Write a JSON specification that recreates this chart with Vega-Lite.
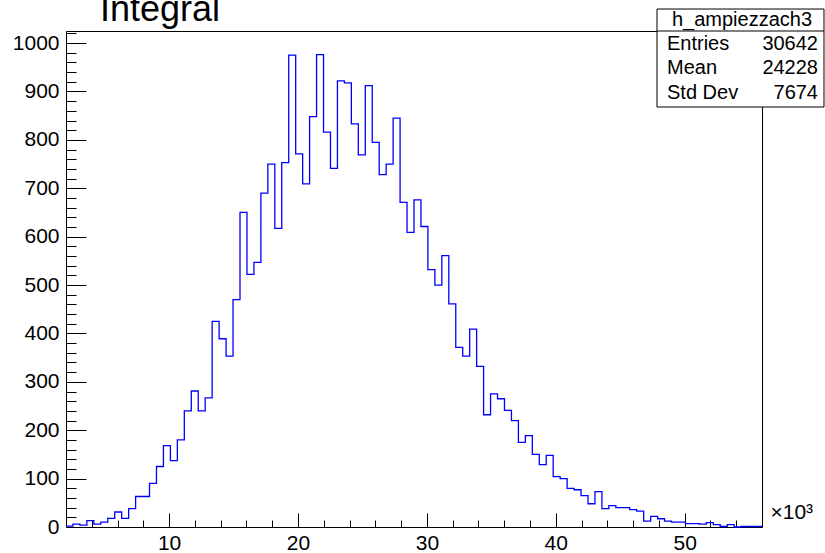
{
  "$schema": "https://vega.github.io/schema/vega-lite/v6.json",
  "width": 696,
  "height": 496,
  "autosize": {"type": "none"},
  "padding": {"left": 66, "top": 31, "right": 63, "bottom": 26},
  "background": "white",
  "config": {"view": {"stroke": null}, "font": "Liberation Sans", "axis": {"grid": false}},
  "title": {"text": "Integral", "anchor": "start", "frame": "group", "dx": 34, "dy": 30, "offset": -18, "fontSize": 36, "fontWeight": "normal", "font": "Liberation Sans", "color": "black", "baseline": "alphabetic"},
  "datasets": {
    "hist": [
      {"lo": 2000, "hi": 2540, "n": 2}, {"lo": 2540, "hi": 3080, "n": 6}, {"lo": 3080, "hi": 3620, "n": 4}, {"lo": 3620, "hi": 4160, "n": 13}, {"lo": 4160, "hi": 4700, "n": 6},
      {"lo": 4700, "hi": 5240, "n": 10}, {"lo": 5240, "hi": 5780, "n": 18}, {"lo": 5780, "hi": 6320, "n": 31}, {"lo": 6320, "hi": 6860, "n": 18}, {"lo": 6860, "hi": 7400, "n": 38},
      {"lo": 7400, "hi": 7940, "n": 63}, {"lo": 7940, "hi": 8480, "n": 63}, {"lo": 8480, "hi": 9020, "n": 90}, {"lo": 9020, "hi": 9560, "n": 125}, {"lo": 9560, "hi": 10100, "n": 168},
      {"lo": 10100, "hi": 10640, "n": 137}, {"lo": 10640, "hi": 11180, "n": 180}, {"lo": 11180, "hi": 11720, "n": 240}, {"lo": 11720, "hi": 12260, "n": 281}, {"lo": 12260, "hi": 12800, "n": 240},
      {"lo": 12800, "hi": 13340, "n": 267}, {"lo": 13340, "hi": 13880, "n": 425}, {"lo": 13880, "hi": 14420, "n": 389}, {"lo": 14420, "hi": 14960, "n": 353}, {"lo": 14960, "hi": 15500, "n": 470},
      {"lo": 15500, "hi": 16040, "n": 650}, {"lo": 16040, "hi": 16580, "n": 522}, {"lo": 16580, "hi": 17120, "n": 547}, {"lo": 17120, "hi": 17660, "n": 690}, {"lo": 17660, "hi": 18200, "n": 750},
      {"lo": 18200, "hi": 18740, "n": 617}, {"lo": 18740, "hi": 19280, "n": 753}, {"lo": 19280, "hi": 19820, "n": 975}, {"lo": 19820, "hi": 20360, "n": 771}, {"lo": 20360, "hi": 20900, "n": 709},
      {"lo": 20900, "hi": 21440, "n": 848}, {"lo": 21440, "hi": 21980, "n": 976}, {"lo": 21980, "hi": 22520, "n": 816}, {"lo": 22520, "hi": 23060, "n": 741}, {"lo": 23060, "hi": 23600, "n": 922},
      {"lo": 23600, "hi": 24140, "n": 918}, {"lo": 24140, "hi": 24680, "n": 833}, {"lo": 24680, "hi": 25220, "n": 769}, {"lo": 25220, "hi": 25760, "n": 912}, {"lo": 25760, "hi": 26300, "n": 795},
      {"lo": 26300, "hi": 26840, "n": 728}, {"lo": 26840, "hi": 27380, "n": 750}, {"lo": 27380, "hi": 27920, "n": 845}, {"lo": 27920, "hi": 28460, "n": 671}, {"lo": 28460, "hi": 29000, "n": 609},
      {"lo": 29000, "hi": 29540, "n": 676}, {"lo": 29540, "hi": 30080, "n": 621}, {"lo": 30080, "hi": 30620, "n": 532}, {"lo": 30620, "hi": 31160, "n": 500}, {"lo": 31160, "hi": 31700, "n": 561},
      {"lo": 31700, "hi": 32240, "n": 461}, {"lo": 32240, "hi": 32780, "n": 371}, {"lo": 32780, "hi": 33320, "n": 353}, {"lo": 33320, "hi": 33860, "n": 409}, {"lo": 33860, "hi": 34400, "n": 332},
      {"lo": 34400, "hi": 34940, "n": 232}, {"lo": 34940, "hi": 35480, "n": 275}, {"lo": 35480, "hi": 36020, "n": 265}, {"lo": 36020, "hi": 36560, "n": 241}, {"lo": 36560, "hi": 37100, "n": 220},
      {"lo": 37100, "hi": 37640, "n": 175}, {"lo": 37640, "hi": 38180, "n": 189}, {"lo": 38180, "hi": 38720, "n": 150}, {"lo": 38720, "hi": 39260, "n": 129}, {"lo": 39260, "hi": 39800, "n": 148},
      {"lo": 39800, "hi": 40340, "n": 104}, {"lo": 40340, "hi": 40880, "n": 100}, {"lo": 40880, "hi": 41420, "n": 80}, {"lo": 41420, "hi": 41960, "n": 77}, {"lo": 41960, "hi": 42500, "n": 65},
      {"lo": 42500, "hi": 43040, "n": 48}, {"lo": 43040, "hi": 43580, "n": 73}, {"lo": 43580, "hi": 44120, "n": 38}, {"lo": 44120, "hi": 44660, "n": 44}, {"lo": 44660, "hi": 45200, "n": 40},
      {"lo": 45200, "hi": 45740, "n": 40}, {"lo": 45740, "hi": 46280, "n": 36}, {"lo": 46280, "hi": 46820, "n": 33}, {"lo": 46820, "hi": 47360, "n": 12}, {"lo": 47360, "hi": 47900, "n": 22},
      {"lo": 47900, "hi": 48440, "n": 17}, {"lo": 48440, "hi": 48980, "n": 12}, {"lo": 48980, "hi": 49520, "n": 10}, {"lo": 49520, "hi": 50060, "n": 10}, {"lo": 50060, "hi": 50600, "n": 7},
      {"lo": 50600, "hi": 51140, "n": 7}, {"lo": 51140, "hi": 51680, "n": 6}, {"lo": 51680, "hi": 52220, "n": 9}, {"lo": 52220, "hi": 52760, "n": 5}, {"lo": 52760, "hi": 53300, "n": 1},
      {"lo": 53300, "hi": 53840, "n": 5}, {"lo": 53840, "hi": 54380, "n": 0}, {"lo": 54380, "hi": 54920, "n": 1}, {"lo": 54920, "hi": 55460, "n": 1}, {"lo": 55460, "hi": 56000, "n": 1}
    ],
    "statbox": [{"title": "h_ampiezzach3"}],
    "stats": [
      {"stat": "Entries", "value": "30642"},
      {"stat": "Mean", "value": "24228"},
      {"stat": "Std Dev", "value": "7674"}
    ]
  },
  "resolve": {"axis": {"x": "independent", "y": "independent"}},
  "layer": [
    {
      "data": {"name": "hist"},
      "mark": {"type": "point", "opacity": 0},
      "encoding": {
        "x": {"field": "lo", "type": "quantitative", "scale": {"domain": [2000, 56000], "nice": false, "zero": false},
              "axis": {"orient": "top", "offset": 0, "domain": true, "domainColor": "black", "domainWidth": 1, "ticks": false, "labels": false, "title": null, "grid": false}},
        "y": {"field": "n", "type": "quantitative", "scale": {"domain": [0, 1025], "nice": false},
              "axis": {"orient": "right", "offset": 0, "domain": true, "domainColor": "black", "domainWidth": 1, "ticks": false, "labels": false, "title": null, "grid": false}}
      }
    },
    {
      "data": {"name": "hist"},
      "mark": {"type": "point", "opacity": 0},
      "encoding": {
        "x": {"field": "lo", "type": "quantitative", "scale": {"domain": [2000, 56000], "nice": false, "zero": false},
              "axis": {"orient": "top", "offset": -496, "domain": false, "ticks": true, "tickSize": 7, "tickColor": "black", "tickWidth": 1, "labels": false, "title": null, "grid": false,
                       "values": [4000, 6000, 8000, 12000, 14000, 16000, 18000, 22000, 24000, 26000, 28000, 32000, 34000, 36000, 38000, 42000, 44000, 46000, 48000, 52000, 54000]}},
        "y": {"field": "n", "type": "quantitative", "scale": {"domain": [0, 1025], "nice": false},
              "axis": {"orient": "right", "offset": -696, "domain": false, "ticks": true, "tickSize": 10, "tickColor": "black", "tickWidth": 1, "labels": false, "title": null, "grid": false,
                       "values": [20, 40, 60, 80, 120, 140, 160, 180, 220, 240, 260, 280, 320, 340, 360, 380, 420, 440, 460, 480, 520, 540, 560, 580, 620, 640, 660, 680, 720, 740, 760, 780, 820, 840, 860, 880, 920, 940, 960, 980, 1020]}}
      }
    },
    {
      "data": {"name": "hist"},
      "mark": {"type": "point", "opacity": 0},
      "encoding": {
        "x": {"field": "lo", "type": "quantitative", "scale": {"domain": [2000, 56000], "nice": false, "zero": false},
              "axis": {"orient": "top", "offset": -496, "domain": false, "ticks": true, "tickSize": 14, "tickColor": "black", "tickWidth": 1, "labels": false, "title": null, "grid": false,
                       "values": [10000, 20000, 30000, 40000, 50000]}},
        "y": {"field": "n", "type": "quantitative", "scale": {"domain": [0, 1025], "nice": false},
              "axis": {"orient": "right", "offset": -696, "domain": false, "ticks": true, "tickSize": 20, "tickColor": "black", "tickWidth": 1, "labels": false, "title": null, "grid": false,
                       "values": [100, 200, 300, 400, 500, 600, 700, 800, 900, 1000]}}
      }
    },
    {
      "data": {"name": "hist"},
      "transform": [{"fold": ["lo", "hi"], "as": ["side", "edge"]}],
      "mark": {"type": "line", "color": "#0000ff", "strokeWidth": 1.3, "interpolate": "linear"},
      "encoding": {
        "x": {"field": "edge", "type": "quantitative", "scale": {"domain": [2000, 56000], "nice": false, "zero": false},
              "axis": {"orient": "bottom", "values": [10000, 20000, 30000, 40000, 50000], "labelExpr": "datum.value / 1000", "ticks": false, "domain": true, "domainColor": "black", "domainWidth": 1,
                       "labelFontSize": 21, "labelFont": "Liberation Sans", "labelColor": "black", "labelPadding": 5, "labelFlush": false, "labelOverlap": false, "grid": false,
                       "title": "×10³", "titleX": 704, "titleY": -9, "titleAlign": "left", "titleBaseline": "alphabetic", "titleAngle": 0, "titleFontSize": 21, "titleFont": "Liberation Sans", "titleFontWeight": "normal", "titleColor": "black"}},
        "y": {"field": "n", "type": "quantitative", "scale": {"domain": [0, 1025], "nice": false},
              "axis": {"orient": "left", "values": [0, 100, 200, 300, 400, 500, 600, 700, 800, 900, 1000], "format": "d", "ticks": false, "domain": true, "domainColor": "black", "domainWidth": 1,
                       "labelFontSize": 21, "labelFont": "Liberation Sans", "labelColor": "black", "labelPadding": 7, "labelFlush": false, "labelOverlap": false, "grid": false, "title": null}},
        "order": [{"field": "edge", "type": "quantitative"}, {"field": "side", "type": "nominal"}]
      }
    },
    {
      "data": {"name": "statbox"},
      "mark": {"type": "rect", "fill": "white", "stroke": "black", "strokeWidth": 1},
      "encoding": {
        "x": {"datum": 47853, "type": "quantitative", "axis": null},
        "x2": {"datum": 60810},
        "y": {"datum": 1070.4, "type": "quantitative", "axis": null},
        "y2": {"datum": 867.9}
      }
    },
    {
      "data": {"name": "statbox"},
      "mark": {"type": "rule", "color": "black", "strokeWidth": 1},
      "encoding": {
        "x": {"datum": 47853, "type": "quantitative", "axis": null},
        "x2": {"datum": 60810},
        "y": {"datum": 1025, "type": "quantitative", "axis": null}
      }
    },
    {
      "data": {"name": "statbox"},
      "mark": {"type": "text", "align": "center", "baseline": "alphabetic", "fontSize": 20, "font": "Liberation Sans", "color": "black"},
      "encoding": {
        "x": {"datum": 54448, "type": "quantitative", "axis": null},
        "y": {"datum": 1035.3, "type": "quantitative", "axis": null},
        "text": {"field": "title", "type": "nominal"}
      }
    },
    {
      "data": {"name": "stats"},
      "transform": [{"filter": "datum.stat === 'Entries'"}],
      "mark": {"type": "text", "align": "left", "baseline": "alphabetic", "fontSize": 20, "font": "Liberation Sans", "color": "black"},
      "encoding": {
        "x": {"datum": 48629, "type": "quantitative", "axis": null},
        "y": {"datum": 985.7, "type": "quantitative", "axis": null},
        "text": {"field": "stat", "type": "nominal"}
      }
    },
    {
      "data": {"name": "stats"},
      "transform": [{"filter": "datum.stat === 'Entries'"}],
      "mark": {"type": "text", "align": "right", "baseline": "alphabetic", "fontSize": 20, "font": "Liberation Sans", "color": "black"},
      "encoding": {
        "x": {"datum": 60345, "type": "quantitative", "axis": null},
        "y": {"datum": 985.7, "type": "quantitative", "axis": null},
        "text": {"field": "value", "type": "nominal"}
      }
    },
    {
      "data": {"name": "stats"},
      "transform": [{"filter": "datum.stat === 'Mean'"}],
      "mark": {"type": "text", "align": "left", "baseline": "alphabetic", "fontSize": 20, "font": "Liberation Sans", "color": "black"},
      "encoding": {
        "x": {"datum": 48629, "type": "quantitative", "axis": null},
        "y": {"datum": 936.1, "type": "quantitative", "axis": null},
        "text": {"field": "stat", "type": "nominal"}
      }
    },
    {
      "data": {"name": "stats"},
      "transform": [{"filter": "datum.stat === 'Mean'"}],
      "mark": {"type": "text", "align": "right", "baseline": "alphabetic", "fontSize": 20, "font": "Liberation Sans", "color": "black"},
      "encoding": {
        "x": {"datum": 60345, "type": "quantitative", "axis": null},
        "y": {"datum": 936.1, "type": "quantitative", "axis": null},
        "text": {"field": "value", "type": "nominal"}
      }
    },
    {
      "data": {"name": "stats"},
      "transform": [{"filter": "datum.stat === 'Std Dev'"}],
      "mark": {"type": "text", "align": "left", "baseline": "alphabetic", "fontSize": 20, "font": "Liberation Sans", "color": "black"},
      "encoding": {
        "x": {"datum": 48629, "type": "quantitative", "axis": null},
        "y": {"datum": 884.5, "type": "quantitative", "axis": null},
        "text": {"field": "stat", "type": "nominal"}
      }
    },
    {
      "data": {"name": "stats"},
      "transform": [{"filter": "datum.stat === 'Std Dev'"}],
      "mark": {"type": "text", "align": "right", "baseline": "alphabetic", "fontSize": 20, "font": "Liberation Sans", "color": "black"},
      "encoding": {
        "x": {"datum": 60345, "type": "quantitative", "axis": null},
        "y": {"datum": 884.5, "type": "quantitative", "axis": null},
        "text": {"field": "value", "type": "nominal"}
      }
    }
  ]
}
